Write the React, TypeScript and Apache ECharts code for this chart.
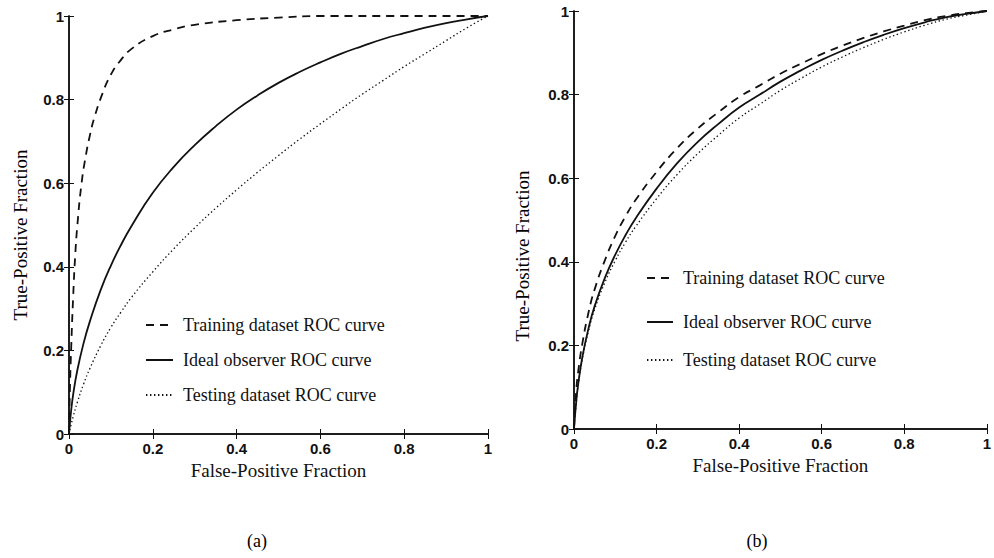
import React, { useEffect, useRef } from "react";
import * as echarts from "echarts";

// Panel (a): false-positive fraction samples and true-positive fractions per curve
const fprTrainingA = [0, 0.002, 0.005, 0.01, 0.015, 0.02, 0.03, 0.04, 0.05, 0.06, 0.08, 0.1, 0.12, 0.15, 0.2, 0.25, 0.3, 0.4, 0.5, 0.6, 0.8, 1];
const tprTrainingA = [0, 0.1, 0.2, 0.33, 0.43, 0.5, 0.6, 0.665, 0.715, 0.755, 0.815, 0.86, 0.89, 0.922, 0.952, 0.968, 0.979, 0.99, 0.996, 1, 1, 1];

const fprGrid = [0, 0.005, 0.01, 0.02, 0.035, 0.05, 0.075, 0.1, 0.125, 0.15, 0.2, 0.25, 0.3, 0.35, 0.4, 0.45, 0.5, 0.55, 0.6, 0.65, 0.7, 0.75, 0.8, 0.85, 0.9, 0.95, 1];
const tprIdealA = [0, 0.055, 0.095, 0.153, 0.218, 0.27, 0.343, 0.403, 0.454, 0.499, 0.577, 0.639, 0.691, 0.736, 0.776, 0.81, 0.84, 0.866, 0.889, 0.91, 0.928, 0.945, 0.959, 0.972, 0.983, 0.992, 1];
const tprTestingA = [0, 0.0225, 0.042, 0.076, 0.12, 0.157, 0.21, 0.255, 0.293, 0.328, 0.388, 0.443, 0.493, 0.54, 0.584, 0.626, 0.666, 0.705, 0.742, 0.778, 0.813, 0.846, 0.879, 0.91, 0.941, 0.972, 1];

// Panel (b): all three curves share the same false-positive samples
const tprTrainingB = [0, 0.086, 0.136, 0.203, 0.278, 0.334, 0.404, 0.462, 0.509, 0.549, 0.615, 0.672, 0.719, 0.758, 0.794, 0.822, 0.85, 0.874, 0.897, 0.917, 0.935, 0.951, 0.965, 0.978, 0.988, 0.995, 1];
const tprIdealB = [0, 0.061, 0.106, 0.171, 0.24, 0.294, 0.362, 0.417, 0.464, 0.505, 0.575, 0.636, 0.687, 0.73, 0.769, 0.8, 0.831, 0.858, 0.883, 0.905, 0.925, 0.943, 0.959, 0.973, 0.985, 0.993, 1];
const tprTestingB = [0, 0.058, 0.102, 0.166, 0.234, 0.286, 0.351, 0.403, 0.447, 0.485, 0.551, 0.609, 0.659, 0.703, 0.744, 0.777, 0.81, 0.839, 0.866, 0.89, 0.912, 0.932, 0.95, 0.966, 0.98, 0.99, 1];

const seriesNames = [
  "Training dataset ROC curve",
  "Ideal observer ROC curve",
  "Testing dataset ROC curve",
];
const panelLabels = ["(a)", "(b)"];
const xAxisTitle = "False-Positive Fraction";
const yAxisTitle = "True-Positive Fraction";

const INK = "#111";
const SERIF = "'Liberation Serif', 'DejaVu Serif', serif";
const SANS = "'Liberation Sans', Arial, sans-serif";

const lineStyles = [
  { type: [8, 6] as number[], width: 1.8 },
  { type: "solid", width: 1.8 },
  { type: [1.4, 2.6] as number[], width: 1.3 },
];

const zip = (xs: number[], ys: number[]) => xs.map((x, i) => [x, ys[i]]);

export default function App() {
  const ref = useRef<HTMLDivElement>(null);

  useEffect(() => {
    if (!ref.current) return;
    const chart = echarts.init(ref.current, undefined, { renderer: "svg" });

    const grids = [
      { left: 69, right: 506, top: 16, bottom: 124 },
      { left: 574, right: 2, top: 11, bottom: 129 },
    ];

    const xAxes: any[] = [];
    const yAxes: any[] = [];
    grids.forEach((_, g) => {
      const common = {
        gridIndex: g,
        type: "value" as const,
        min: 0,
        max: 1,
        interval: 0.2,
        splitLine: { show: false },
        axisLine: { show: true, lineStyle: { color: INK, width: 1.5 } },
        axisTick: { show: true, inside: true, length: 5, lineStyle: { color: INK, width: 1 } },
      };
      xAxes.push({
        ...common,
        position: "bottom",
        name: xAxisTitle,
        nameLocation: "middle",
        nameGap: g === 0 ? 25 : 26,
        nameTextStyle: { fontFamily: SERIF, fontSize: 19, color: INK },
        axisLabel: { fontFamily: SANS, fontSize: 15, fontWeight: "bold", color: INK, margin: 7 },
      });
      xAxes.push({ ...common, position: "top", axisLabel: { show: false } });
      yAxes.push({
        ...common,
        position: "left",
        axisLabel: { fontFamily: SANS, fontSize: 15, fontWeight: "bold", color: INK, margin: 5 },
      });
      yAxes.push({ ...common, position: "right", axisLabel: { show: false } });
    });

    const panels = [
      [zip(fprTrainingA, tprTrainingA), zip(fprGrid, tprIdealA), zip(fprGrid, tprTestingA)],
      [zip(fprGrid, tprTrainingB), zip(fprGrid, tprIdealB), zip(fprGrid, tprTestingB)],
    ];

    const series: any[] = [];
    panels.forEach((curves, g) => {
      curves.forEach((data, i) => {
        series.push({
          type: "line",
          name: seriesNames[i],
          xAxisIndex: g * 2,
          yAxisIndex: g * 2,
          data,
          showSymbol: false,
          symbol: "none",
          smooth: 0.5,
          lineStyle: { color: INK, ...lineStyles[i] },
          itemStyle: { color: INK },
          z: 3 - i,
        });
      });
    });

    // one legend entry per component so each row can sit at its own height
    const legendRows = [
      { left: 145, width: 27, tops: [316, 351, 386] },
      { left: 646, width: 26, tops: [269, 313, 351] },
    ];
    const legends: any[] = [];
    legendRows.forEach((row) => {
      seriesNames.forEach((name, i) => {
        legends.push({
          data: [name],
          left: row.left,
          top: row.tops[i],
          padding: 0,
          itemWidth: row.width,
          itemHeight: 10,
          selectedMode: false,
          itemStyle: { opacity: 0 },
          textStyle: { fontFamily: SERIF, fontSize: 18, lineHeight: 18, color: INK, padding: [0, 0, 0, 5] },
        });
      });
    });

    const yTitles = [
      { x: 20, y: 235 },
      { x: 522, y: 256 },
    ];
    const captions = [
      { x: 257, y: 541 },
      { x: 757, y: 541 },
    ];

    chart.setOption({
      animation: false,
      backgroundColor: "#fff",
      grid: grids,
      xAxis: xAxes,
      yAxis: yAxes,
      series,
      legend: legends,
      graphic: [
        ...yTitles.map((p) => ({
          type: "text",
          x: p.x,
          y: p.y,
          rotation: Math.PI / 2,
          style: {
            text: yAxisTitle,
            fontFamily: SERIF,
            fontSize: 19,
            fill: "#000",
            align: "center",
            verticalAlign: "middle",
          },
        })),
        ...captions.map((p, i) => ({
          type: "text",
          x: p.x,
          y: p.y,
          style: {
            text: panelLabels[i],
            fontFamily: SERIF,
            fontSize: 18,
            fill: "#000",
            align: "center",
            verticalAlign: "middle",
          },
        })),
      ],
    });

    return () => chart.dispose();
  }, []);

  return (
    <div
      ref={ref}
      style={{ position: "fixed", left: 0, top: 0, width: 994, height: 558, background: "#fff" }}
    />
  );
}
